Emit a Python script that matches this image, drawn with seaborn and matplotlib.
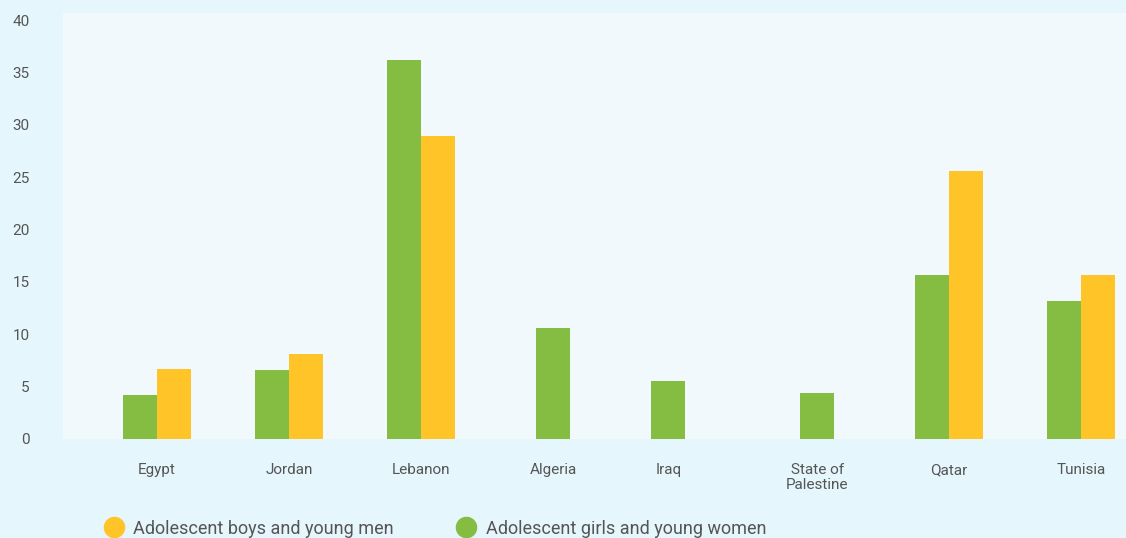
import numpy as np
import pandas as pd
import matplotlib
matplotlib.use("Agg")
import matplotlib.pyplot as plt
import matplotlib.transforms as mtransforms
from matplotlib.lines import Line2D
import seaborn as sns

# ---- data ----
categories = ["Egypt", "Jordan", "Lebanon", "Algeria", "Iraq",
              "State of\nPalestine", "Qatar", "Tunisia"]
girls = [4.2, 6.6, 36.2, 10.6, 5.5, 4.4, 15.7, 13.2]
boys = [6.7, 8.1, 28.9, np.nan, np.nan, np.nan, 25.6, 15.7]
series_names = ["Adolescent girls and young women", "Adolescent boys and young men"]
y_ticks = [0, 5, 10, 15, 20, 25, 30, 35, 40]
centered_single = ["Algeria", "State of\nPalestine"]

# ---- style ----
GREEN = "#84bd41"
YELLOW = "#ffc428"
OUTER_BG = "#e6f6fd"
INNER_BG = "#f1f9fd"
TEXT = "#555555"

sns.set_theme(style="white")
plt.rcParams["font.family"] = ["Roboto", "DejaVu Sans"]

W, H = 1126, 538
fig = plt.figure(figsize=(W / 100, H / 100), dpi=100, facecolor=OUTER_BG)
ax = fig.add_axes([63 / W, (H - 439) / H, 1 - 63 / W, (439 - 13) / H])
ax.set_facecolor(INNER_BG)

rows = []
for c, g, b in zip(categories, girls, boys):
    if c in centered_single:
        continue
    rows.append({"country": c, "group": series_names[0], "value": g})
    if not np.isnan(b):
        rows.append({"country": c, "group": series_names[1], "value": b})
df_pair = pd.DataFrame(rows)
df_single = pd.DataFrame({"country": [c for c in categories if c in centered_single],
                          "value": [g for c, g in zip(categories, girls) if c in centered_single]})

sns.barplot(data=df_pair, x="country", y="value", hue="group", order=categories,
            hue_order=series_names, palette=[GREEN, YELLOW], width=0.515,
            saturation=1, errorbar=None, linewidth=0, legend=False, ax=ax)
sns.barplot(data=df_single, x="country", y="value", order=categories,
            color=GREEN, width=0.258, saturation=1, errorbar=None,
            linewidth=0, ax=ax)

ax.set_xlim(-0.712, 7.34)
ax.set_ylim(0, 40.67)
ax.set_yticks(y_ticks)
ax.set_yticklabels([str(t) for t in y_ticks])
ax.set_xlabel("")
ax.set_ylabel("")
for s in ax.spines.values():
    s.set_visible(False)
ax.tick_params(axis="y", length=0, pad=24, labelsize=11, labelcolor=TEXT)
ax.tick_params(axis="x", length=0, pad=17.5, labelsize=11, labelcolor=TEXT)
for lab in ax.get_xticklabels():
    lab.set_linespacing(1.1)
    if lab.get_text() == "Iraq":
        lab.set_transform(lab.get_transform() +
                          mtransforms.ScaledTranslation(-0.16, 0, fig.dpi_scale_trans))

handles = [Line2D([], [], marker="o", linestyle="none", markersize=14.5,
                  markerfacecolor=YELLOW, markeredgecolor=YELLOW),
           Line2D([], [], marker="o", linestyle="none", markersize=14.5,
                  markerfacecolor=GREEN, markeredgecolor=GREEN)]
leg = fig.legend(handles, [series_names[1], series_names[0]], loc="center left",
                 bbox_to_anchor=(104.5 / W, 9.5 / H), ncol=2, frameon=False,
                 borderaxespad=0, borderpad=0, handlelength=1.0,
                 handletextpad=0.6, columnspacing=3.5, fontsize=13)
for t in leg.get_texts():
    t.set_color(TEXT)

fig.savefig("out.png", dpi=100, facecolor=OUTER_BG)
